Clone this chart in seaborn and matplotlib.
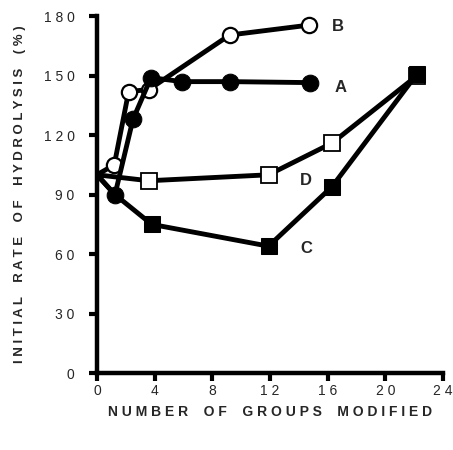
import matplotlib
matplotlib.use("Agg")
import matplotlib.pyplot as plt
import seaborn as sns

# --- Data ---
a_x = [0, 1.25, 2.5, 3.75, 5.9, 9.2, 14.8]
a_y = [100, 90, 128, 149, 147, 147, 146.5]

b_x = [0, 1.2, 2.2, 3.6, 9.2, 14.7]
b_y = [100, 105, 142, 143, 170.5, 175.5]

c_x = [0, 1.25, 3.8, 11.9, 16.3, 22.2]
c_y = [100, 90, 75, 64, 94, 151]

d_x = [0, 3.6, 11.9, 16.3, 22.2]
d_y = [100, 97, 100, 116, 150]

curve_labels = ["A", "B", "C", "D"]
label_x = [16.5, 16.3, 14.1, 14.1]
label_y = [144, 175, 63, 97]

x_ticks = [0, 4, 8, 12, 16, 20, 24]
y_ticks = [0, 30, 60, 90, 120, 150, 180]

sns.set_style("white")
plt.rcParams['font.family'] = ['Liberation Sans', 'DejaVu Sans']

fig = plt.figure(figsize=(4.53, 4.5), dpi=100)
ax = fig.add_axes([0.214, 0.171, 0.764, 0.793])

lw = 3.5
# D first (underneath), then C, B, A
sns.lineplot(x=d_x, y=d_y, ax=ax, color="black", lw=lw, marker="s", markersize=11,
             markerfacecolor="white", markeredgecolor="black", markeredgewidth=1.3,
             markevery=[1, 2, 3, 4], sort=False, estimator=None)
sns.lineplot(x=c_x, y=c_y, ax=ax, color="black", lw=lw, marker="s", markersize=11.5,
             markerfacecolor="black", markeredgecolor="black",
             markevery=[2, 3, 4, 5], sort=False, estimator=None)
sns.lineplot(x=b_x, y=b_y, ax=ax, color="black", lw=lw, marker="o", markersize=11,
             markerfacecolor="white", markeredgecolor="black", markeredgewidth=1.6,
             markevery=[1, 2, 3, 4, 5], sort=False, estimator=None)
sns.lineplot(x=a_x, y=a_y, ax=ax, color="black", lw=lw, marker="o", markersize=12,
             markerfacecolor="black", markeredgecolor="black",
             markevery=[1, 2, 3, 4, 5, 6], sort=False, estimator=None)

for lab, lx, ly in zip(curve_labels, label_x, label_y):
    ax.text(lx, ly, lab, fontsize=12, fontweight="bold", ha="left", va="center")

ax.set_xlim(0, 24)
ax.set_ylim(0, 180)
ax.set_xticks(x_ticks)
ax.set_yticks(y_ticks)
ax.set_xticklabels([" ".join(str(t)) for t in x_ticks], fontsize=10)
ax.set_yticklabels([" ".join(str(t)) for t in y_ticks], fontsize=10)

for side in ["top", "right"]:
    ax.spines[side].set_visible(False)
for side in ["left", "bottom"]:
    ax.spines[side].set_linewidth(3.2)
    ax.spines[side].set_color("black")

ax.tick_params(axis="both", direction="out", length=6, width=3, color="black",
               left=True, bottom=True)
ax.tick_params(axis="y", pad=10)
ax.tick_params(axis="x", pad=2)

ax.set_xlabel("N U M B E R    O F    G R O U P S    M O D I F I E D",
              fontsize=10, fontweight="bold", labelpad=5)
ax.set_ylabel("I N I T I A L    R A T E    O F    H Y D R O L Y S I S    ( % )",
              fontsize=9.5, fontweight="bold", labelpad=13)

fig.savefig("out.png", dpi=100)
